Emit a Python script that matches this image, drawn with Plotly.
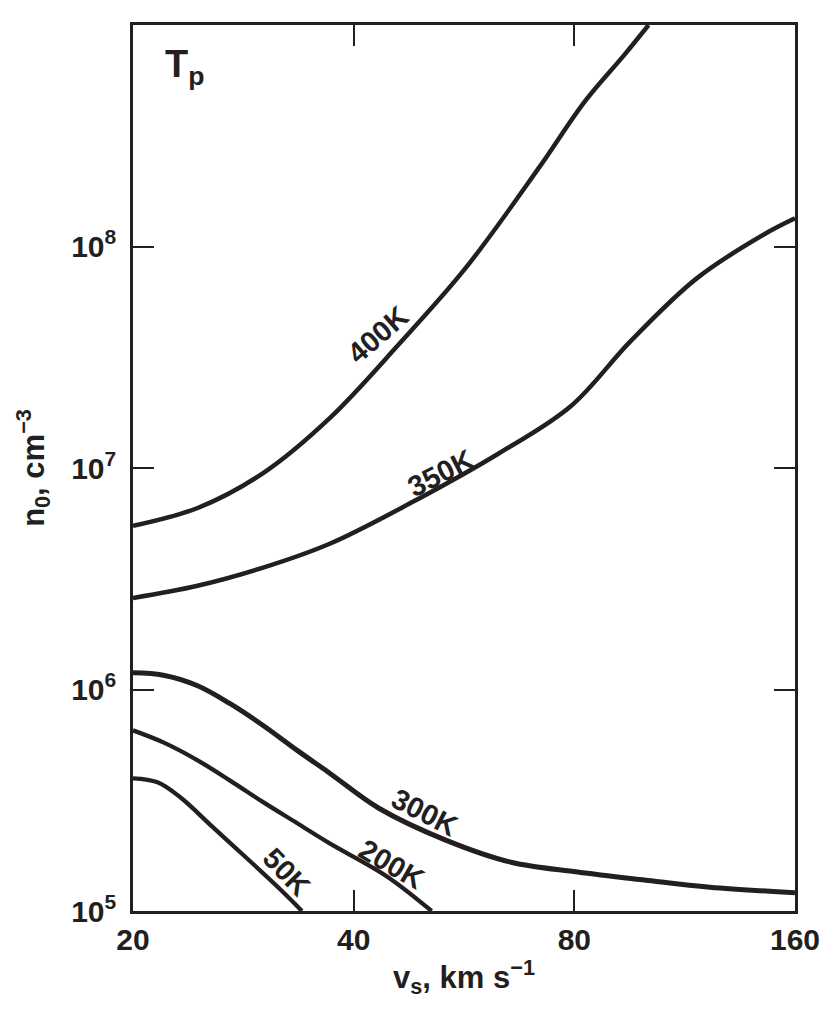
import numpy as np
import plotly.graph_objects as go

# curve data: shock speed v_s (km/s) vs pre-shock density n_0 (cm^-3)
# -------------------------------------------------------------------
v_400 = [20, 24.5, 30.1, 37.1, 46.1, 56.8, 71.4, 82.6, 93.6, 101]
n_400 = [5.48e6, 6.60e6, 9.49e6, 1.68e7, 3.62e7, 7.96e7, 2.24e8, 4.50e8, 7.33e8, 1.0e9]

v_350 = [20, 24.5, 30.1, 37.1, 47.6, 63.0, 79.1, 95.4, 117.5, 144.9, 160]
n_350 = [2.59e6, 2.94e6, 3.55e6, 4.55e6, 6.89e6, 1.16e7, 1.90e7, 3.73e7, 7.18e7, 1.13e8, 1.34e8]

v_300 = [20, 22.0, 24.5, 27.1, 30.1, 33.5, 37.1, 43.3, 53.4, 65.6, 80.8, 99.7, 122.4, 160]
n_300 = [1.19e6, 1.16e6, 1.04e6, 8.65e5, 6.88e5, 5.31e5, 4.19e5, 2.91e5, 2.09e5, 1.66e5, 1.50e5, 1.38e5, 1.28e5, 1.21e5]

v_200 = [20, 22.0, 24.5, 27.1, 30.1, 33.5, 37.1, 44.3, 51.1]
n_200 = [6.54e5, 5.77e5, 4.79e5, 3.89e5, 3.10e5, 2.49e5, 2.02e5, 1.44e5, 1.0e5]

v_50 = [20, 21.6, 23.2, 25.7, 28.6, 31.7, 34.0]
n_50 = [3.97e5, 3.81e5, 3.26e5, 2.39e5, 1.73e5, 1.26e5, 1.0e5]

# curve labels: text, position (v, n), angle
label_text = ['400K', '350K', '300K', '200K', '50K']
label_v = [43.1, 52.6, 49.9, 45.0, 32.4]
label_n = [4.0e7, 9.5e6, 2.8e5, 1.63e5, 1.5e5]
label_angle = [-41, -27, 27, 30, 46]

# axis ticks
x_ticks = [20, 40, 80, 160]
y_ticks = [1e5, 1e6, 1e7, 1e8]
y_ticktext = ['10<sup>5</sup>', '10<sup>6</sup>', '10<sup>7</sup>', '10<sup>8</sup>']

ink = '#231f20'
font_family = 'Liberation Sans, Arial, sans-serif'

# build figure
# ------------
fig = go.Figure()

curves = [(v_400, n_400, 4.5), (v_350, n_350, 4.5), (v_300, n_300, 5),
          (v_200, n_200, 4.3), (v_50, n_50, 4.3)]
for v, n, w in curves:
    fig.add_trace(go.Scatter(
        x=v, y=n, mode='lines',
        line=dict(color=ink, width=w, shape='spline', smoothing=1.0),
        showlegend=False, hoverinfo='skip'))

for t, lv, ln, a in zip(label_text, label_v, label_n, label_angle):
    fig.add_annotation(
        x=np.log10(lv), y=np.log10(ln), xref='x', yref='y',
        text=t, showarrow=False, textangle=a,
        font=dict(size=29, color=ink, family=font_family, weight='bold'))

# T_p tag
fig.add_annotation(
    x=0.045, y=0.982, xref='paper', yref='paper', xanchor='left', yanchor='top',
    text='T<sub>p</sub>', showarrow=False,
    font=dict(size=38, color=ink, family=font_family, weight='bold'))

axis_common = dict(
    type='log', showline=True, linecolor=ink, linewidth=2.5, mirror='ticks',
    ticks='inside', ticklen=21, tickwidth=2, tickcolor=ink,
    showgrid=False, zeroline=False, ticklabeloverflow='allow',
    tickfont=dict(size=30, color=ink, family=font_family, weight='bold'),
)

fig.update_xaxes(
    range=[np.log10(20) * (1 - 1e-7), np.log10(160) * (1 + 1e-7)],
    tickvals=x_ticks, ticktext=[str(t) for t in x_ticks],
    title=dict(text='v<sub>s</sub>, km s<sup>\u22121</sup>', standoff=12,
               font=dict(size=31, color=ink, family=font_family, weight='bold')),
    **axis_common)

fig.update_yaxes(
    range=[5 * (1 - 1e-7), 9],
    tickvals=y_ticks, ticktext=y_ticktext, ticklabelstandoff=8,
    title=dict(text='n<sub>0</sub>, cm<sup>\u22123</sup>', standoff=18,
               font=dict(size=31, color=ink, family=font_family, weight='bold')),
    **axis_common)

# page adds an 8px body margin, so the figure is offset by 8px
fig.update_layout(
    width=824, height=1001,
    margin=dict(l=125, r=33, t=17, b=98),
    paper_bgcolor='white', plot_bgcolor='white',
    font=dict(family=font_family, color=ink),
)

fig.write_html('out.html')
